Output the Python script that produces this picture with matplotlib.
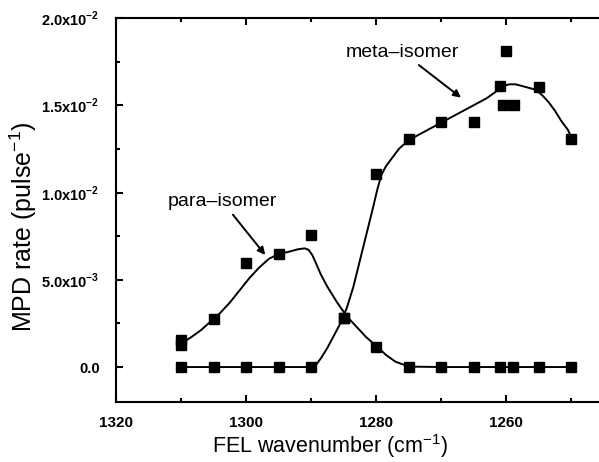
import matplotlib
matplotlib.use("Agg")
import matplotlib.pyplot as plt
from matplotlib.ticker import MultipleLocator, FixedLocator

plt.rcParams['font.family'] = ['Liberation Sans', 'DejaVu Sans']
plt.rcParams['mathtext.fontset'] = 'custom'
plt.rcParams['mathtext.rm'] = 'Liberation Sans'
plt.rcParams['mathtext.bf'] = 'Liberation Sans:bold'

# measured points (wavenumber in cm^-1, rate in pulse^-1)
para_x = [1310, 1310, 1305, 1300, 1295, 1290, 1285, 1280, 1275, 1270, 1265, 1261, 1259, 1255, 1250]
para_y = [0.00155, 0.00126, 0.00274, 0.00596, 0.00648, 0.00759, 0.0028, 0.00117, 0, 0, 0, 0, 0, 0, 0]

meta_x = [1310, 1305, 1300, 1295, 1290, 1285, 1280, 1275, 1270, 1265, 1261, 1260, 1260.4, 1258.8, 1255, 1250]
meta_y = [0, 0, 0, 0, 0, 0.0028, 0.01109, 0.01305, 0.01404, 0.01404, 0.0161, 0.0181, 0.0150, 0.0150, 0.01605, 0.01308]

# smooth guide curves
para_fit_x = [1310, 1308.5, 1307, 1305.5, 1304, 1302.5, 1301, 1299.5, 1298, 1296.5, 1295, 1293.5,
              1292, 1291, 1290.4, 1289.8, 1289.2, 1288.5, 1287.5, 1286, 1284.5, 1283, 1281.5,
              1280, 1278.5, 1277, 1275.5, 1274, 1270, 1260, 1250]
para_fit_y = [0.00135, 0.0017, 0.0021, 0.0026, 0.0031, 0.0037, 0.0044, 0.0051, 0.0057, 0.0062,
              0.00648, 0.0066, 0.00675, 0.0068, 0.00672, 0.0064, 0.0059, 0.0053, 0.0046, 0.0037,
              0.0029, 0.0023, 0.0017, 0.00122, 0.0007, 0.0003, 0.0001, 0.00002, 0, 0, 0]

meta_fit_x = [1310, 1300, 1290, 1289.3, 1288.5, 1287.5, 1286.5, 1285.5, 1284.5, 1283.5, 1282.5,
              1281.5, 1280.5, 1279.8, 1279.2, 1278.5, 1277.5, 1276.5, 1275, 1273, 1271, 1269,
              1267, 1265, 1263, 1261.5, 1260.5, 1259.5, 1258.5, 1257.5, 1256.5, 1255.5, 1254.5,
              1253.5, 1252.5, 1251.5, 1250.5, 1250]
meta_fit_y = [0, 0, 0, 0.0001, 0.0005, 0.0011, 0.0018, 0.0025, 0.0034, 0.0046, 0.0061, 0.0076,
              0.0091, 0.0102, 0.0110, 0.0115, 0.0120, 0.0125, 0.0130, 0.0134, 0.0138, 0.0142,
              0.0146, 0.0150, 0.0154, 0.0158, 0.0161, 0.0162, 0.0162, 0.0161, 0.0160, 0.0159,
              0.0156, 0.0152, 0.0147, 0.0141, 0.0136, 0.0132]

y_ticks = [0, 0.005, 0.01, 0.015, 0.02]
y_labels = ['0.0', r'5.0x10$^{\mathbf{-3}}$', r'1.0x10$^{\mathbf{-2}}$',
            r'1.5x10$^{\mathbf{-2}}$', r'2.0x10$^{\mathbf{-2}}$']
x_ticks = [1320, 1300, 1280, 1260]

fig = plt.figure(figsize=(5.99, 4.62), dpi=100)
ax = fig.add_axes([0.194, 0.130, 0.806, 0.831])

ax.plot(para_fit_x, para_fit_y, color='black', lw=1.4)
ax.plot(meta_fit_x, meta_fit_y, color='black', lw=1.4)
ax.plot(para_x, para_y, 's', color='black', ms=7)
ax.plot(meta_x, meta_y, 's', color='black', ms=7)

ax.set_xlim(1320, 1245.7)
ax.set_ylim(-0.002, 0.02)

ax.xaxis.set_major_locator(FixedLocator(x_ticks))
ax.xaxis.set_minor_locator(MultipleLocator(10))
ax.set_xticklabels([str(t) for t in x_ticks], fontweight='bold', fontsize=11)
ax.set_yticks(y_ticks)
ax.set_yticklabels(y_labels, fontweight='bold', fontsize=10.5)
ax.yaxis.set_minor_locator(MultipleLocator(0.0025))
ax.tick_params(which='both', direction='in', top=True, right=False, width=1.5)
ax.tick_params(which='major', length=5)
ax.tick_params(which='minor', length=3)
ax.tick_params(axis='x', which='major', pad=10)
ax.tick_params(axis='y', which='major', pad=12)
for side in ['left', 'bottom', 'top']:
    ax.spines[side].set_linewidth(1.5)
ax.spines['right'].set_visible(False)

ax.set_xlabel(r'FEL wavenumber (cm$^{-1}$)', fontsize=15.5)
ax.set_ylabel(r'MPD rate (pulse$^{-1}$)', fontsize=18)
ax.xaxis.set_label_coords(0.443, -0.078)
ax.yaxis.set_label_coords(-0.16, 0.455)

arrow = dict(arrowstyle='-|>', color='black', lw=1.4, mutation_scale=11)
ax.annotate('meta\u2012isomer', xy=(1266.6, 0.01534), xytext=(1276.0, 0.01805),
            ha='center', va='center', fontsize=14, arrowprops=arrow)
ax.annotate('para\u2012isomer', xy=(1296.8, 0.0063), xytext=(1303.7, 0.0095),
            ha='center', va='center', fontsize=14, arrowprops=arrow)

fig.savefig('out.png', dpi=100)
